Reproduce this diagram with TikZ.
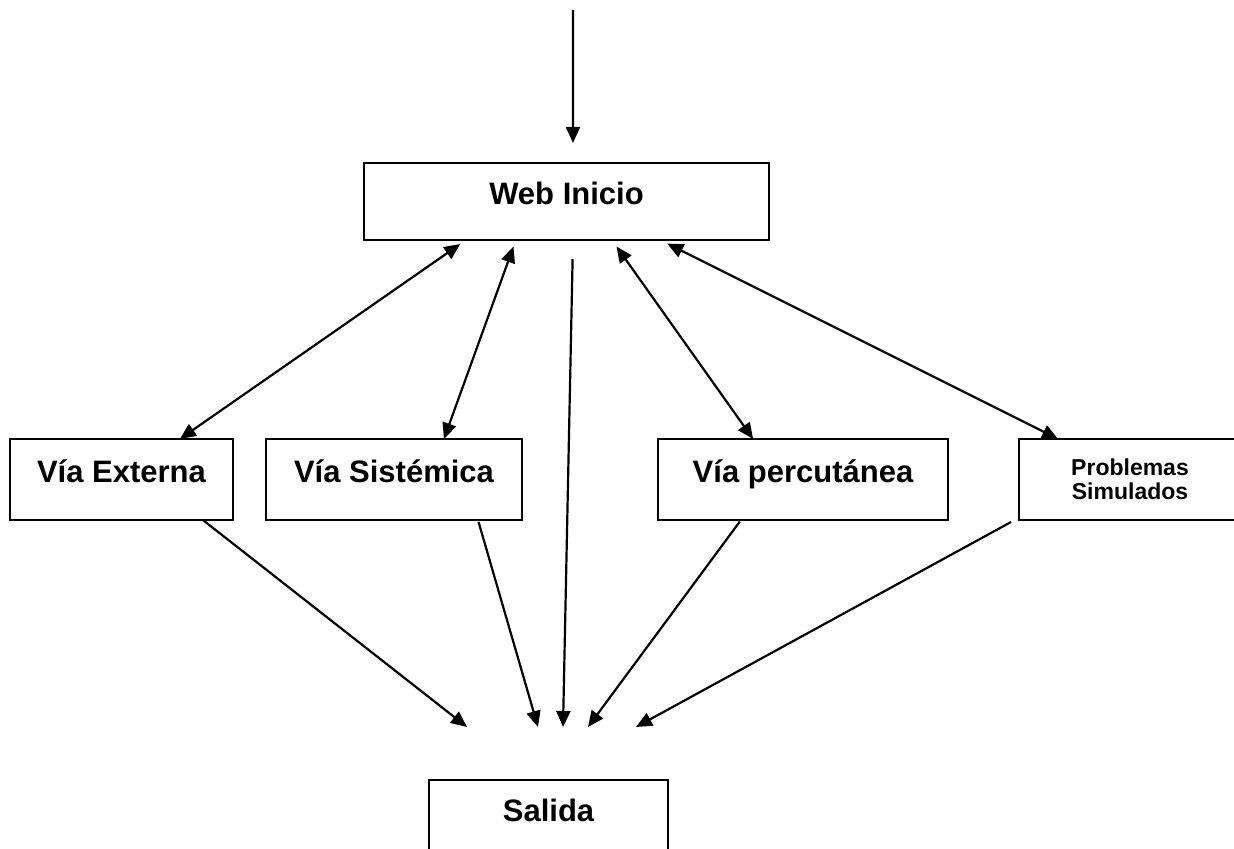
\documentclass[tikz,border=0pt]{standalone}
\usepackage{fontspec}
\setmainfont{Liberation Sans}
\usetikzlibrary{arrows.meta,calc}

\tikzset{
	box/.style={draw, line width=0.75pt, inner sep=0pt, outer sep=0pt, anchor=north west, font=\bfseries\fontsize{15.5}{18}\selectfont},
	row/.style={box, text height=21.5pt, text depth=19pt},
	link/.style={line width=1.1pt, -{Triangle[length=8pt,width=7pt]}},
	dbl/.style={line width=1.1pt, {Triangle[length=8pt,width=7pt]}-{Triangle[length=8pt,width=7pt]}},
}

\begin{document}
\begin{tikzpicture}[x=0.5pt,y=-0.5pt]
		\useasboundingbox (0,0) rectangle (1234,849);
		% boxes
		\node[box, minimum width=202.5pt, text height=21pt, text depth=17.5pt] (web) at (364,163) {Web Inicio};
		\node[row, minimum width=111.5pt] (ext) at (10,439) {Vía Externa};
		\node[row, minimum width=128pt] (sis) at (266,439) {Vía Sistémica};
		\node[row, minimum width=145pt] (per) at (658,439) {Vía percutánea};
		\node[box, minimum width=111pt, minimum height=40.5pt, align=center, font=\bfseries\fontsize{11.5}{12}\selectfont] (pro) at (1019,439) {Problemas\\Simulados};
		\node[box, minimum width=119.5pt, text height=20.5pt, text depth=30pt] (sal) at (429,780) {Salida};
		% free ends
		\coordinate (top) at (573,10);
		\coordinate (in1) at (467,727);
		\coordinate (in2) at (538,727);
		\coordinate (in3) at (563,727);
		\coordinate (in4) at (588,727);
		\coordinate (in5) at (636,727);
		% entry
		\draw[link, shorten >=10pt] (top) -- ($(web.north west)!0.516!(web.north east)$);
		% web <-> sections
		\draw[dbl, shorten <=3.5pt] ($(web.south west)!0.252!(web.south east)$) -- ($(ext.north west)!0.762!(ext.north east)$);
		\draw[dbl, shorten <=3.5pt] ($(web.south west)!0.375!(web.south east)$) -- ($(sis.north west)!0.695!(sis.north east)$);
		\draw[dbl, shorten <=4pt] ($(web.south west)!0.612!(web.south east)$) -- ($(per.north west)!0.328!(per.north east)$);
		\draw[dbl, shorten <=4pt] ($(web.south west)!0.731!(web.south east)$) -- ($(pro.north west)!0.176!(pro.north east)$);
		% sections -> exit
		\draw[link, shorten <=9.5pt] ($(web.south west)!0.516!(web.south east)$) -- (in3);
		\draw[link] ($(ext.south west)!0.865!(ext.south east)$) -- (in1);
		\draw[link, shorten <=1pt] ($(sis.south west)!0.828!(sis.south east)$) -- (in2);
		\draw[link, shorten <=1pt] ($(per.south west)!0.286!(per.south east)$) -- (in4);
		\draw[link] ([xshift=-4pt,yshift=-1pt]pro.south west) -- (in5);
	\end{tikzpicture}
\end{document}
